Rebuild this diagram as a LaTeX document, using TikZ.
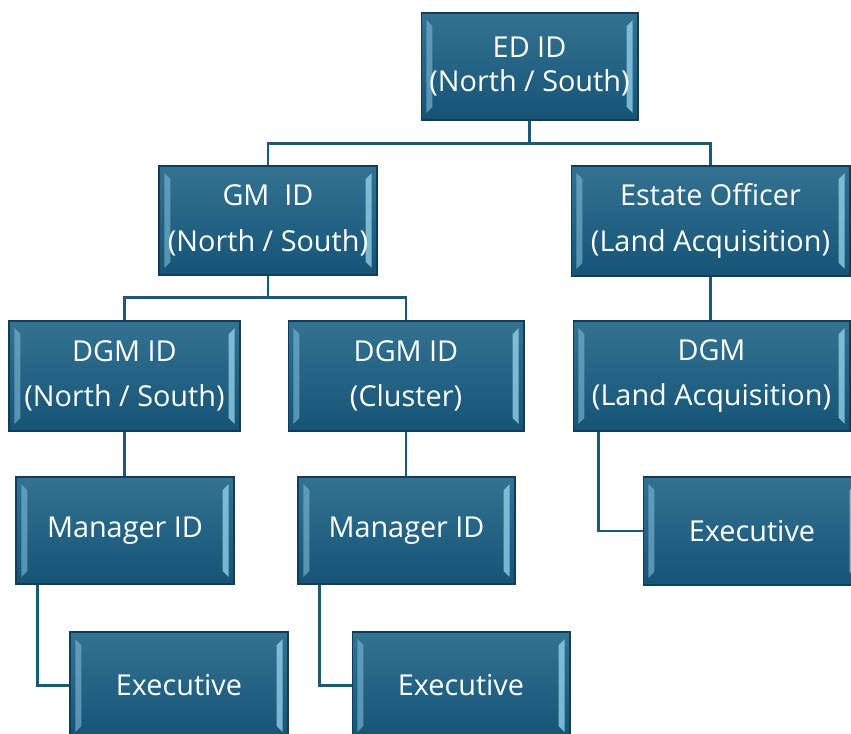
\documentclass[tikz,border=0pt]{standalone}
\usepackage{fontspec}
\setsansfont{Open Sans}
\usepackage{tikz}
\usetikzlibrary{positioning}
\definecolor{boxtop}{RGB}{52,114,146}
\definecolor{boxbottom}{RGB}{22,84,118}
\definecolor{boxedge}{RGB}{16,62,90}
\definecolor{bevelleft}{RGB}{120,180,210}
\definecolor{bevelright}{RGB}{150,215,240}
\definecolor{linkcolor}{RGB}{28,88,120}

\begin{document}
\begin{tikzpicture}[x=0.02cm, y=-0.02cm,
        orgbox/.style={rectangle, draw=boxedge, line width=0.6pt, top color=boxtop, bottom color=boxbottom,
            text=white, align=center, inner sep=0pt, font=\sffamily\fontsize{16.4}{26}\selectfont,
            path picture={
                \fill[bevelleft, opacity=0.65] ([shift={(3pt,-4pt)}]path picture bounding box.north west) -- ([shift={(6.5pt,-7.5pt)}]path picture bounding box.north west) -- ([shift={(6.5pt,7.5pt)}]path picture bounding box.south west) -- ([shift={(3pt,4pt)}]path picture bounding box.south west) -- cycle;
                \fill[bevelright, opacity=0.75] ([shift={(-3pt,-4pt)}]path picture bounding box.north east) -- ([shift={(-6.5pt,-7.5pt)}]path picture bounding box.north east) -- ([shift={(-6.5pt,7.5pt)}]path picture bounding box.south east) -- ([shift={(-3pt,4pt)}]path picture bounding box.south east) -- cycle;
            }},
        link/.style={draw=linkcolor, line width=1.4pt}
        ]
        \path[use as bounding box, clip] (0,0) rectangle (851,733);

        % Nodes
        \node (ed) [orgbox, minimum width=4.34cm, minimum height=2.14cm, font=\sffamily\fontsize{16.4}{19}\selectfont] at (529.5,66.5) {ED ID\\(North / South)};
        \node (gm) [orgbox, minimum width=4.36cm, minimum height=2.18cm] at (268,220.5) {GM\ \ ID\\(North / South)};
        \node (estate) [orgbox, minimum width=5.58cm, minimum height=2.2cm] at (710.5,221) {Estate Officer\\(Land Acquisition)};
        \node (dgmns) [orgbox, minimum width=4.62cm, minimum height=2.2cm] at (124.5,376) {DGM ID\\(North / South)};
        \node (dgmcl) [orgbox, minimum width=4.72cm, minimum height=2.2cm] at (406,376) {DGM ID\\(Cluster)};
        \node (dgmla) [orgbox, minimum width=5.54cm, minimum height=2.2cm] at (711.5,376) {DGM\\(Land Acquisition)};
        \node (mgrns) [orgbox, minimum width=4.36cm, minimum height=2.14cm] at (125,530.5) {Manager ID};
        \node (mgrcl) [orgbox, minimum width=4.34cm, minimum height=2.14cm] at (406.5,530.5) {Manager ID};
        \node (execla) [orgbox, minimum width=4.36cm, minimum height=2.16cm] at (752,531) {Executive};
        \node (execns) [orgbox, minimum width=4.36cm, minimum height=2.14cm] at (179,685.5) {Executive};
        \node (execcl) [orgbox, minimum width=4.36cm, minimum height=2.14cm] at (461,685.5) {Executive};

        % Connectors
        \draw [link] (ed.south) -- ++(0,23) -| (gm.north);
        \draw [link] (ed.south) -- ++(0,23) -| (estate.north);
        \draw [link] (gm.south) -- ++(0,22) -| (dgmns.north);
        \draw [link] (gm.south) -- ++(0,22) -| (dgmcl.north);
        \draw [link] (estate.south) -- (estate.south |- dgmla.north);
        \draw [link] (dgmns.south) -- (dgmns.south |- mgrns.north);
        \draw [link] (dgmcl.south) -- (dgmcl.south |- mgrcl.north);
        \draw [link] ([xshift=0.52cm]dgmla.south west) |- (execla.west);
        \draw [link] ([xshift=0.44cm]mgrns.south west) |- (execns.west);
        \draw [link] ([xshift=0.44cm]mgrcl.south west) |- (execcl.west);

    \end{tikzpicture}
\end{document}
